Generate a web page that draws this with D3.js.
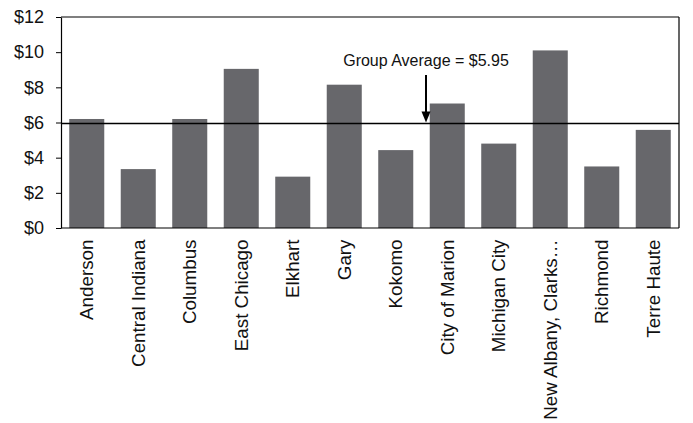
<!DOCTYPE html>
<html><head><meta charset="utf-8">
<script src="https://cdn.jsdelivr.net/npm/d3@7"></script>
<style>body{margin:0;background:#fff}svg{display:block}text{font-family:"Liberation Sans",Arial,sans-serif}</style>
</head><body><svg id="c" width="693" height="423"></svg>
<script>
const categories = ["Anderson","Central Indiana","Columbus","East Chicago","Elkhart","Gary","Kokomo","City of Marion","Michigan City","New Albany, Clarks\u2026","Richmond","Terre Haute"];
const values = [6.2,3.35,6.2,9.05,2.92,8.15,4.43,7.08,4.8,10.1,3.5,5.58];
const yTicks = [0,2,4,6,8,10,12];
const groupAverage = 5.95;
const annotation = "Group Average = $5.95";

const svg = d3.select("#c");
const L=61,R=679,T=17,B=228;
const x = d3.scaleBand().domain(categories).range([L,R]).paddingInner(0.32).paddingOuter(0.16);
const y = d3.scaleLinear().domain([0,12]).range([B,T]);

svg.append("g").selectAll("rect").data(values).join("rect")
  .attr("x",(d,i)=>x(categories[i])).attr("width",x.bandwidth())
  .attr("y",d=>y(d)).attr("height",d=>y(0)-y(d)).attr("fill","#67676b");

// frame
svg.append("line").attr("x1",L).attr("x2",R).attr("y1",y(12)).attr("y2",y(12)).attr("stroke","#000").attr("stroke-width",1.2);
svg.append("line").attr("x1",R).attr("x2",R).attr("y1",y(12)).attr("y2",y(0)).attr("stroke","#000").attr("stroke-width",1.2);

const ya = svg.append("g").attr("transform",`translate(${L},0)`)
  .call(d3.axisLeft(y).tickValues(yTicks).tickFormat(d=>"$"+d).tickSize(5).tickPadding(12).tickSizeOuter(0));
ya.select(".domain").attr("stroke-width",1.2);
ya.selectAll("text").attr("font-size",18).attr("fill","#111");

const xa = svg.append("g").attr("transform",`translate(0,${B})`)
  .call(d3.axisBottom(x).tickSize(0).tickSizeOuter(0));
xa.select(".domain").attr("d",`M${L},0H${R}`).attr("stroke-width",1.2);
xa.selectAll("text").attr("font-size",18.8).attr("fill","#111")
  .attr("transform","rotate(-90)").attr("text-anchor","end")
  .attr("x",-11.5).attr("y",0).attr("dy","0.35em");

svg.append("line").attr("x1",L).attr("x2",R).attr("y1",y(groupAverage)).attr("y2",y(groupAverage)).attr("stroke","#000").attr("stroke-width",1.5);

const ax = 426;
svg.append("line").attr("x1",ax).attr("x2",ax).attr("y1",75).attr("y2",y(groupAverage)-10).attr("stroke","#000").attr("stroke-width",2);
svg.append("path").attr("d",`M${ax-4.5},${y(groupAverage)-12}L${ax+4.5},${y(groupAverage)-12}L${ax},${y(groupAverage)-1}Z`).attr("fill","#000");
svg.append("text").attr("x",426).attr("y",66).attr("text-anchor","middle").attr("font-size",16).attr("fill","#111").text(annotation);
</script></body></html>
